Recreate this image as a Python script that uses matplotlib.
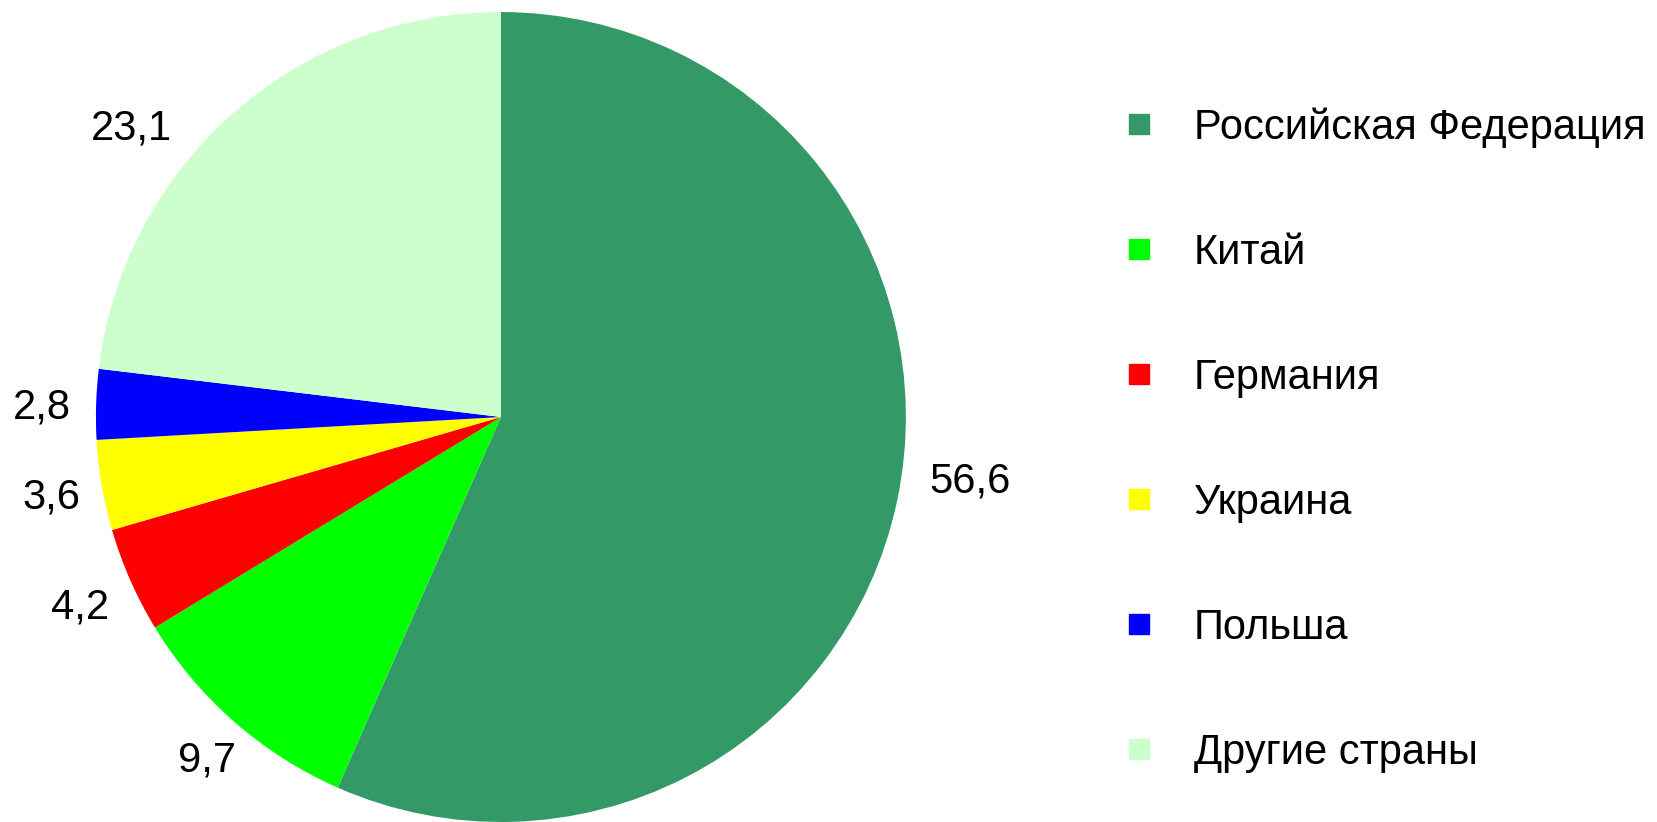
import matplotlib
matplotlib.use("Agg")
import numpy as np
import matplotlib.pyplot as plt
from matplotlib.lines import Line2D

plt.rcParams['font.family'] = ['Liberation Sans', 'DejaVu Sans']

categories = ["Российская Федерация", "Китай", "Германия", "Украина", "Польша", "Другие страны"]
values = [56.6, 9.7, 4.2, 3.6, 2.8, 23.1]
value_labels = ["56,6", "9,7", "4,2", "3,6", "2,8", "23,1"]
colors = ["#339966", "#00FF00", "#FF0000", "#FFFF00", "#0000FF", "#CCFFCC"]

# label placement (layout only): distance from centre and angular nudge, per slice
label_dist = [1.168, 1.117, 1.14, 1.128, 1.133, 1.158]
label_nudge = [4.1, 0.7, 0.6, 0.4, 0.6, 10.5]

fig = plt.figure(figsize=(16.57, 8.22), dpi=100)
ax = fig.add_axes([0.0579, 0.0, 0.4888, 0.9854])
wedges, _ = ax.pie(values, colors=colors, startangle=90, counterclock=False,
                   wedgeprops=dict(linewidth=0))
for w, lab, d, n in zip(wedges, value_labels, label_dist, label_nudge):
    ang = np.deg2rad((w.theta1 + w.theta2) / 2 + n)
    ax.text(d * np.cos(ang), d * np.sin(ang), lab, ha='center', va='center',
            fontsize=30, color='black')
ax.set_xlim(-1, 1); ax.set_ylim(-1, 1)
ax.set_aspect('equal')
ax.axis('off')

handles = [Line2D([], [], marker='s', linestyle='none', markersize=15,
                  markerfacecolor=c, markeredgecolor=c) for c in colors]
fig.legend(handles, categories, loc='upper left', bbox_to_anchor=(0.667, 0.890),
           frameon=False, fontsize=30, labelspacing=2.04, handlelength=0.8,
           handletextpad=0.92, borderaxespad=0)

fig.savefig("out.png", dpi=100)
